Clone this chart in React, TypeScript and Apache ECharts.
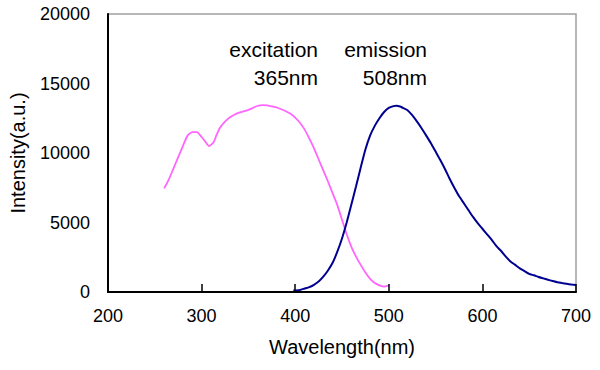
import React, { useEffect, useRef } from "react";
import * as echarts from "echarts";

const xTicks = [200, 300, 400, 500, 600, 700];
const yTicks = [0, 5000, 10000, 15000, 20000];

const excitationWavelengths = [
  260, 265, 270, 275, 280, 285, 290, 295, 300, 303, 308, 313, 316, 320, 325, 330, 335, 340, 345, 350,
  355, 360, 365, 370, 375, 380, 385, 390, 395, 400, 405, 410, 415, 420, 425, 430, 435, 440, 445, 450,
  455, 460, 465, 470, 475, 480, 485, 490, 495, 500,
];
const excitationValues = [
  7450, 8100, 8900, 9700, 10500, 11250, 11500, 11500, 11150, 10900, 10500, 10800, 11300, 11850, 12250, 12550, 12750, 12900, 13000, 13100,
  13250, 13400, 13450, 13420, 13350, 13280, 13150, 13000, 12820, 12550, 12180, 11700, 11050, 10350, 9550, 8750, 7950, 7100, 6250, 5200,
  4150, 3250, 2550, 1950, 1400, 950, 650, 480, 380, 480,
];

const emissionWavelengths = [
  398, 405, 410, 415, 420, 425, 430, 435, 440, 445, 450, 455, 460, 465, 470, 475, 480, 485, 490, 495,
  500, 505, 508, 512, 515, 520, 525, 530, 535, 540, 545, 550, 555, 560, 565, 570, 575, 580, 585, 590,
  595, 600, 605, 610, 615, 620, 625, 630, 635, 640, 645, 650, 655, 660, 665, 670, 675, 680, 685, 690,
  695, 700,
];
const emissionValues = [
  100, 150, 250, 350, 520, 750, 1100, 1550, 2100, 2900, 3850, 5000, 6300, 7600, 8950, 10250, 11250, 11950, 12500, 12950,
  13250, 13370, 13400, 13350, 13250, 13080, 12720, 12270, 11780, 11250, 10700, 10100, 9500, 8850, 8150, 7500, 6900, 6400, 5900, 5400,
  4950, 4550, 4150, 3750, 3300, 2950, 2550, 2200, 1950, 1700, 1500, 1300, 1200, 1080, 980, 880, 790, 700, 640, 590,
  540, 500,
];

const xName = "Wavelength(nm)";
const yName = "Intensity(a.u.)";
const annotations = [
  { line1: "excitation", line2: "365nm", right: 318 },
  { line1: "emission", line2: "508nm", right: 427 },
];

const FONT = "'Liberation Sans', Arial, sans-serif";

export default function App() {
  const ref = useRef<HTMLDivElement>(null);
  useEffect(() => {
    if (!ref.current) return;
    const chart = echarts.init(ref.current, null, { renderer: "svg" });
    const excitation = excitationWavelengths.map((w, i) => [w, excitationValues[i]]);
    const emission = emissionWavelengths.map((w, i) => [w, emissionValues[i]]);
    const graphics: any[] = [];
    annotations.forEach((a) => {
      graphics.push({
        type: "text",
        x: a.right,
        y: 49,
        style: { text: a.line1, font: `21px ${FONT}`, fill: "#000", align: "right", verticalAlign: "middle" },
      });
      graphics.push({
        type: "text",
        x: a.right,
        y: 77,
        style: { text: a.line2, font: `21px ${FONT}`, fill: "#000", align: "right", verticalAlign: "middle" },
      });
    });
    chart.setOption({
      animation: false,
      backgroundColor: "#fff",
      grid: {
        left: 107,
        right: 24,
        top: 14,
        bottom: 78,
        show: true,
        borderColor: "#a0a0a0",
        borderWidth: 1.5,
        backgroundColor: "rgba(0,0,0,0)",
      },
      xAxis: {
        type: "value",
        min: xTicks[0],
        max: xTicks[xTicks.length - 1],
        interval: 100,
        name: xName,
        nameLocation: "middle",
        nameGap: 45,
        nameTextStyle: { fontSize: 20, color: "#000", fontFamily: FONT },
        axisLine: { show: true, onZero: false, lineStyle: { color: "#000", width: 2 } },
        axisTick: { show: true, inside: true, length: 8, lineStyle: { color: "#000", width: 1.5 } },
        axisLabel: { fontSize: 18, color: "#000", fontFamily: FONT, margin: 15, formatter: (v: number) => String(v) },
        splitLine: { show: false },
        z: 5,
      },
      yAxis: {
        type: "value",
        min: yTicks[0],
        max: yTicks[yTicks.length - 1],
        interval: 5000,
        name: yName,
        nameLocation: "middle",
        nameRotate: 90,
        nameGap: 80,
        nameTextStyle: { fontSize: 20, color: "#000", fontFamily: FONT },
        axisLine: { show: true, lineStyle: { color: "#000", width: 2 } },
        axisTick: { show: false },
        axisLabel: { fontSize: 18, color: "#000", fontFamily: FONT, margin: 18, formatter: (v: number) => String(v) },
        splitLine: { show: false },
        z: 5,
      },
      series: [
        {
          name: "excitation",
          type: "line",
          data: excitation,
          showSymbol: false,
          smooth: 0.2,
          lineStyle: { color: "#ff66ff", width: 1.8 },
          z: 2,
        },
        {
          name: "emission",
          type: "line",
          data: emission,
          showSymbol: false,
          smooth: 0.2,
          lineStyle: { color: "#000090", width: 2 },
          z: 3,
        },
      ],
      graphic: graphics,
    });
    return () => chart.dispose();
  }, []);
  return <div ref={ref} style={{ width: 600, height: 370, position: "absolute", left: 0, top: 0 }} />;
}
